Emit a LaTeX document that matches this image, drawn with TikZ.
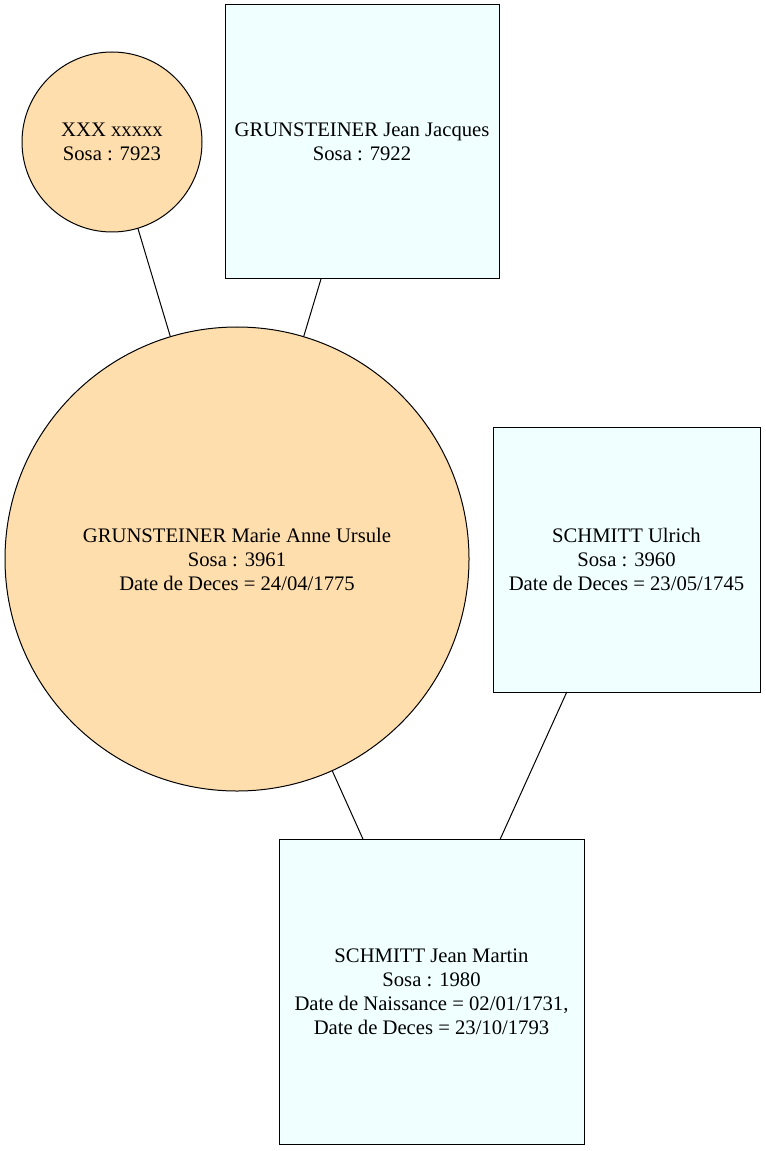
\documentclass[tikz,border=0pt]{standalone}
\usepackage{fontspec}
\setmainfont{Liberation Serif}
\definecolor{navajo}{HTML}{FFDEAD}
\definecolor{azur}{HTML}{F0FFFF}
\begin{document}
\begin{tikzpicture}[x=0.75pt, y=-0.75pt, line width=0.75pt,
                    cnode/.style = {shape = circle,
                                    fill = navajo,
                                    draw = black,
                                    inner sep = 0pt,
                                    outer sep = 0pt,
                                    align = center,
                                    font = \fontsize{15.5}{18}\selectfont},
                    snode/.style = {shape = rectangle,
                                    fill = azur,
                                    draw = black,
                                    inner sep = 0pt,
                                    outer sep = 0pt,
                                    align = center,
                                    font = \fontsize{15.5}{18}\selectfont}]
		\useasboundingbox (0,0) rectangle (765,1151);
		\node[cnode, minimum size = 135pt] (7923) at (112,142) {XXX xxxxx\\Sosa : 7923};
		\node[snode, minimum size = 205.5pt] (7922) at (362,142) {GRUNSTEINER Jean Jacques\\Sosa : 7922};
		\node[cnode, minimum size = 348pt] (3961) at (237,559) {GRUNSTEINER Marie Anne Ursule\\Sosa : 3961\\Date de Deces = 24/04/1775};
		\node[snode, minimum width = 200.25pt, minimum height = 198.75pt] (3960) at (626.5,559.5) {SCHMITT Ulrich\\Sosa : 3960\\Date de Deces = 23/05/1745};
		\node[snode, minimum size = 228.75pt] (1980) at (431.5,991.5) {SCHMITT Jean Martin\\Sosa : 1980\\Date de Naissance = 02/01/1731,\\Date de Deces = 23/10/1793};
		\path (7923) edge (3961);
		\path (7922) edge (3961);
		\path (3961) edge (1980);
		\path (3960) edge (1980);
	\end{tikzpicture}
\end{document}
